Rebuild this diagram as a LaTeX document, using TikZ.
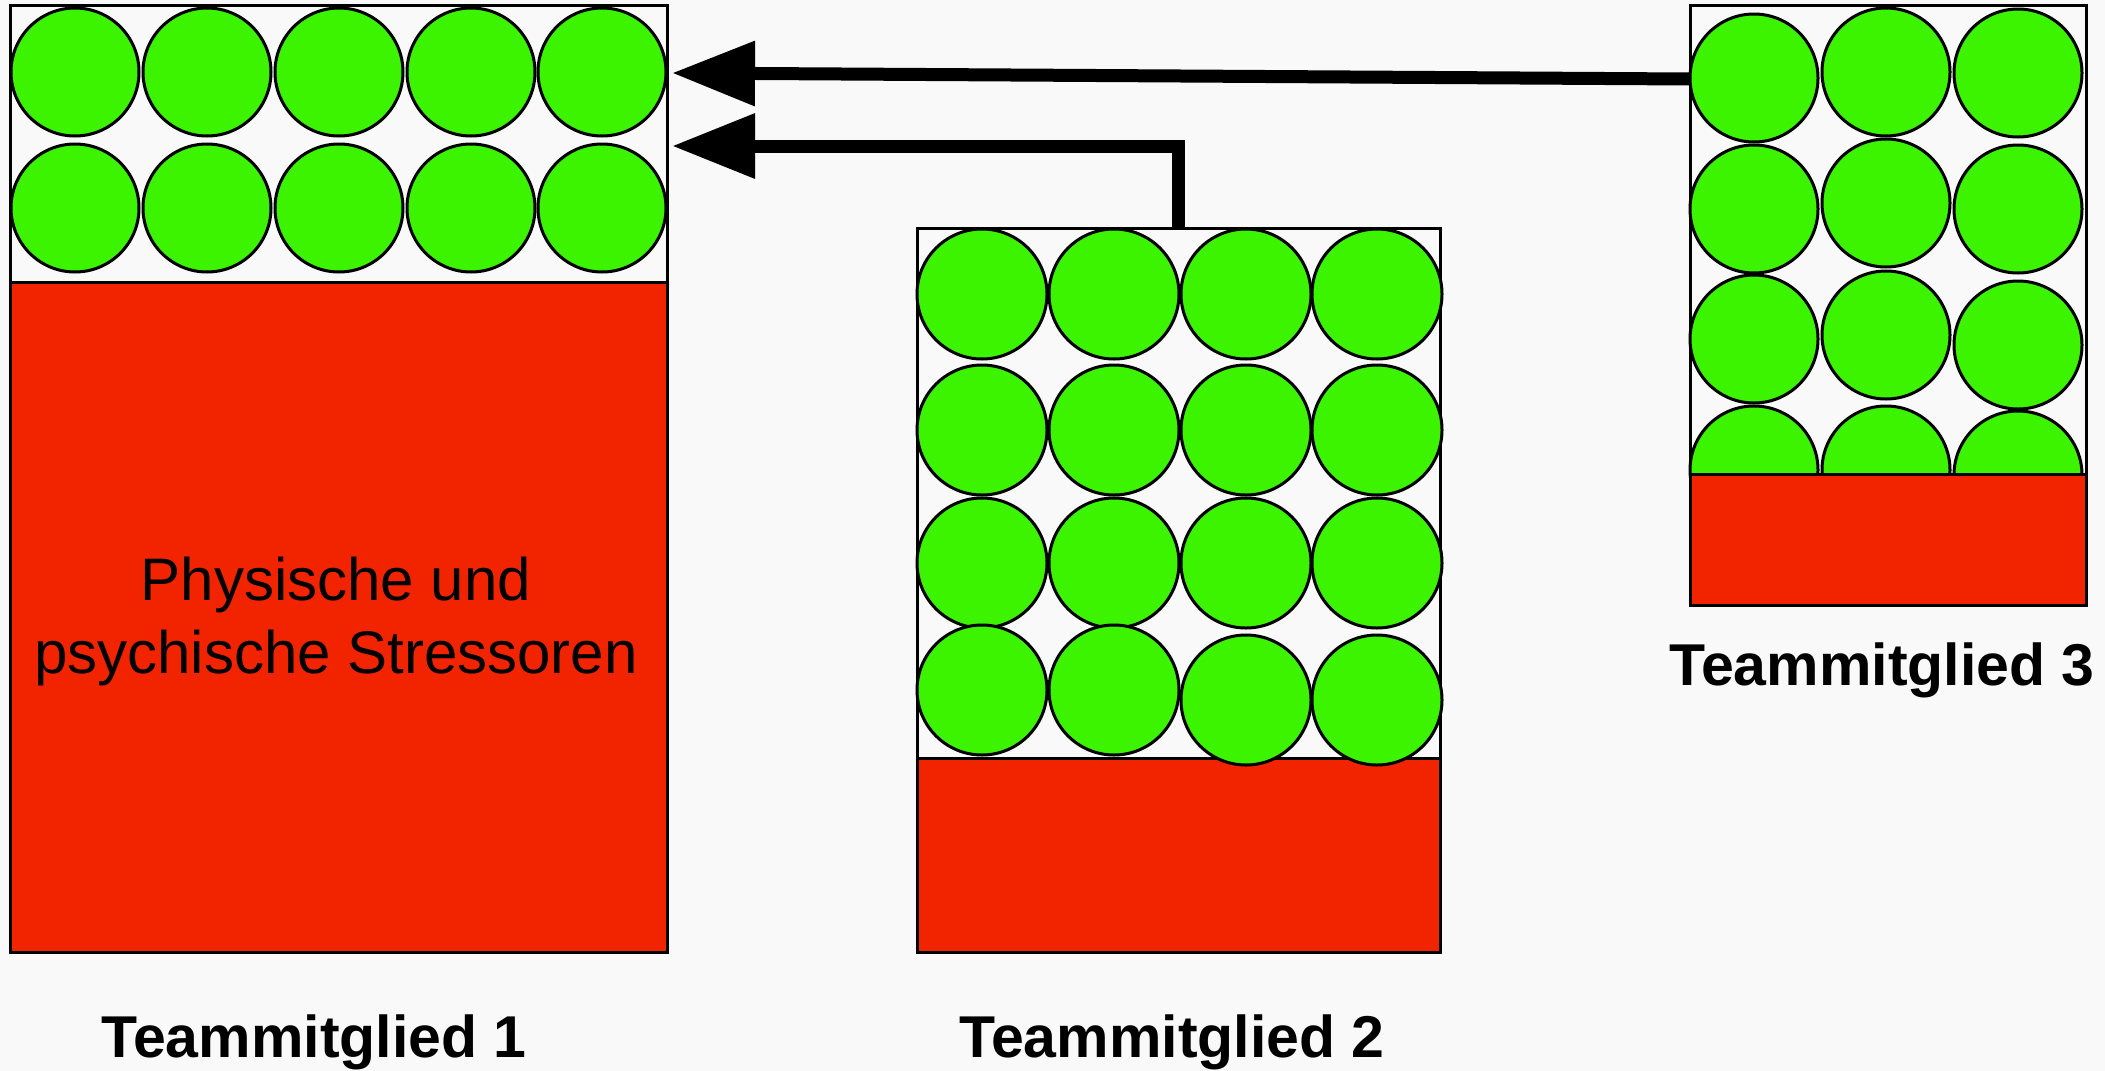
\documentclass[tikz,border=0pt]{standalone}
\usepackage{fontspec}
\setmainfont{Liberation Sans}
\usetikzlibrary{arrows.meta}
\definecolor{paper}{RGB}{249,249,249}
\definecolor{resgreen}{RGB}{60,243,0}
\definecolor{stressred}{RGB}{242,36,0}

\begin{document}
\begin{tikzpicture}[x=0.5pt,y=-0.5pt,
    member/.style={draw,line width=1.5pt,fill=paper,inner sep=0pt,outer sep=0pt},
    resource/.style={draw,line width=1.5pt,fill=resgreen},
    stressor/.style={draw,line width=1.5pt,fill=stressred},
    flow/.style={line width=6.5pt,line join=miter,-{Triangle[length=41.5pt,width=31pt]}},
    caption/.style={font=\bfseries\fontsize{29.5pt}{35pt}\selectfont,anchor=base}]
  \fill[paper] (0,0) rectangle (2105,1071);
  \useasboundingbox (0,0) rectangle (2105,1071);

  % the three team members
  \node[member,minimum width=328.5pt,minimum height=473.5pt] (m1) at (338.5,478.5) {};
  \node[member,minimum width=261.5pt,minimum height=362pt] (m2) at (1178.5,590) {};
  \node[member,minimum width=198pt,minimum height=300pt] (m3) at (1888,305) {};

  % member 1
  \foreach \cx in {75,207,339,471,602}
    \foreach \cy in {72,208}
      \filldraw[resource] (\cx,\cy) circle[radius=32pt];
  \filldraw[stressor] (10,282) rectangle (667,952);
  \node[font=\fontsize{30pt}{36.5pt}\selectfont,align=center] (stress1) at (336,621)
    {Physische und\\psychische Stressoren};

  % member 2
  \filldraw[stressor] (917,758) rectangle (1440,952);
  \foreach \cx in {982,1114,1246,1377}
    \foreach \cy in {294,430,563}
      \filldraw[resource] (\cx,\cy) circle[radius=32.5pt];
  \foreach \cx/\cy in {982/690,1114/690,1246/700,1377/700}
    \filldraw[resource] (\cx,\cy) circle[radius=32.5pt];

  % member 3
  \foreach \cx/\cy in {1754/78,1886/72,2018/73,1754/209,1886/203,2018/209,
                       1754/339,1886/335,2018/345,1754/470,1886/470,2018/475}
    \filldraw[resource] (\cx,\cy) circle[radius=32pt];
  \filldraw[stressor] (1690,474) rectangle (2086,605);

  % labels
  \node[caption] (lab1) at (314,1057) {Teammitglied 1};
  \node[caption] (lab2) at (1172,1057) {Teammitglied 2};
  \node[caption] (lab3) at (1882,685) {Teammitglied 3};

  % transfer of resources
  \coordinate (src3) at (1690,79);
  \coordinate (in1) at (672,73);
  \coordinate (in2) at (672,146);
  \draw[flow] (src3) -- (in1);
  \draw[flow] (m2.north) |- (in2);
\end{tikzpicture}
\end{document}
